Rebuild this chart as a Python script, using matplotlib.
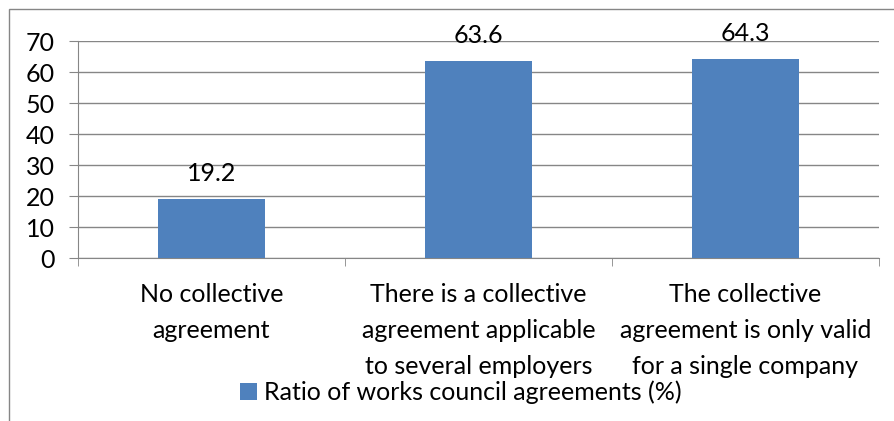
import numpy as np
import matplotlib.pyplot as plt
from matplotlib.patches import Rectangle

categories = ["No collective\nagreement",
              "There is a collective\nagreement applicable\nto several employers",
              "The collective\nagreement is only valid\nfor a single company"]
values = [19.2, 63.6, 64.3]
series_name = "Ratio of works council agreements (%)"
yticks = [0, 10, 20, 30, 40, 50, 60, 70]

plt.rcParams['font.family'] = ['Lato', 'DejaVu Sans']
grey = '#868686'
blue = '#4F81BD'
fs = 18

fig = plt.figure(figsize=(8.95, 4.21), dpi=100)
ax = fig.add_axes([78/895, 1-258.3/421, (879-78)/895, (258.3-41.3)/421])

x = np.arange(len(values))
bars = ax.bar(x, values, width=0.4, color=blue, label=series_name, zorder=3)
for xi, v in zip(x, values):
    ax.annotate(f"{v}", xy=(xi, v), xytext=(0, 13), textcoords='offset points',
                ha='center', va='baseline', fontsize=fs, color='black')

ax.set_xlim(-0.5, 2.5)
ax.set_ylim(0, 70)
ax.set_yticks(yticks)
ax.yaxis.grid(True, color=grey, lw=1)
ax.set_axisbelow(True)
ax.tick_params(axis='y', length=6.5, color=grey, pad=10, labelsize=fs)

ax.set_xticks(x)
ax.set_xticklabels(categories, fontsize=fs, linespacing=1.68)
ax.tick_params(axis='x', which='major', length=0, pad=18)
ax.set_xticks([-0.5, 0.5, 1.5, 2.5], minor=True)
ax.tick_params(axis='x', which='minor', length=6, color=grey)

for s in ['top', 'right']:
    ax.spines[s].set_visible(False)
for s in ['left', 'bottom']:
    ax.spines[s].set_color(grey)

fig.patches.append(Rectangle((9/895, -0.1), 1.2, 1 - 9.5/421 + 0.1,
                             transform=fig.transFigure, fill=False,
                             edgecolor=grey, lw=1))

fig.legend(loc='center', bbox_to_anchor=(461/895, 1-392/421), frameon=False,
           fontsize=fs, handlelength=0.67, handleheight=0.67, handletextpad=0.3)

fig.savefig('out.png', dpi=100)
